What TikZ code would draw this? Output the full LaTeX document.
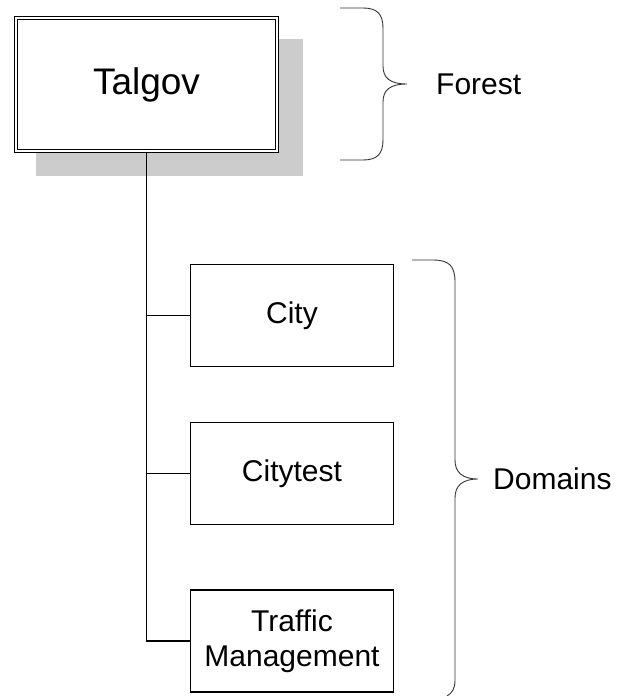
\documentclass[tikz,border=0pt]{standalone}
\usepackage{fontspec}
\setmainfont{Liberation Sans}
\usetikzlibrary{shadows}
\tikzset{forestbox/.style={draw,fill=white,rectangle,double,double distance=2pt,line width=1.1pt,
		minimum width=261pt,minimum height=133pt,inner sep=0pt,
		font=\fontsize{37}{42}\selectfont,
		drop shadow={shadow xshift=22pt,shadow yshift=-22.5pt,shadow scale=1.023,fill=black!20,opacity=1}},
	domainbox/.style={draw,fill=white,rectangle,line width=1.4pt,minimum width=203pt,minimum height=102pt,
		inner sep=0pt,align=center,font=\fontsize{30}{35}\selectfont},
	bracelabel/.style={anchor=west,inner sep=0pt,font=\fontsize{30}{35}\selectfont},
	link/.style={draw,line width=1.8pt},
	curly/.style={draw=black!80,line width=0.9pt}}

\begin{document}
\begin{tikzpicture}[x=1pt,y=-1pt]
		\useasboundingbox (0,0) rectangle (618,696);
		% tree of boxes
		\node[forestbox] (talgov) at (146.5,84.5) {Talgov};
		\begin{scope}[every node/.style={domainbox}]
			\node (city) at (292,315.5) {City};
			\node (citytest) at (292,473.5) {Citytest};
			\node (traffic) at (292,641) {Traffic\\Management};
		\end{scope}
		\path[link] (talgov.south) |- (traffic.west);
		\path[link] (talgov.south |- city.west) -- (city.west);
		\path[link] (talgov.south |- citytest.west) -- (citytest.west);
		% braces on the right
		\path[curly] (340,8) -- (363,8) .. controls (377,8) and (383,14) .. (383,28)
			-- (383,66) .. controls (383,78) and (390,84) .. (407,84)
			.. controls (390,84) and (383,90) .. (383,102)
			-- (383,140) .. controls (383,154) and (377,160) .. (363,160) -- (340,160);
		\path[curly] (412,260) -- (433,260) .. controls (449,260) and (455,266) .. (455,282)
			-- (455,460) .. controls (455,472) and (462,479) .. (478,479)
			.. controls (462,479) and (455,486) .. (455,498)
			-- (455,680) .. controls (455,689) and (452,693) .. (447,696);
		\node[bracelabel] (forest) at (436,84) {Forest};
		\node[bracelabel] (domains) at (493,479) {Domains};
	\end{tikzpicture}
\end{document}
